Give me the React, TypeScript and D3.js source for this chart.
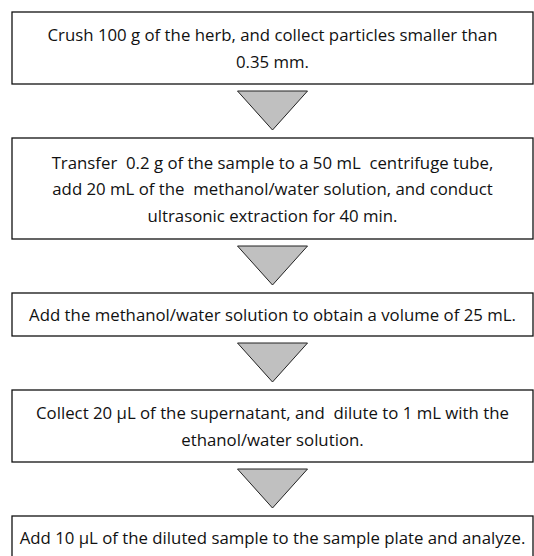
import React from 'react';
import * as d3 from 'd3';

// each step of the procedure, already broken into the lines seen in the figure
const steps: string[][] = [
  ['Crush 100 g of the herb, and collect particles smaller than', '0.35 mm.'],
  [
    'Transfer  0.2 g of the sample to a 50 mL  centrifuge tube,',
    'add 20 mL of the  methanol/water solution, and conduct',
    'ultrasonic extraction for 40 min.',
  ],
  ['Add the methanol/water solution to obtain a volume of 25 mL.'],
  ['Collect 20 µL of the supernatant, and  dilute to 1 mL with the', 'ethanol/water solution.'],
  ['Add 10 µL of the diluted sample to the sample plate and analyze.'],
];

const W = 534;
const H = 556;
const left = 12;
const right = 533;
const top = 12;
const lineH = 26.5;
const connector = 54;
const triW = 70;
const triH = 39;
const triGap = 7;

function boxHeight(n: number) {
  return 14 + 29 * n;
}

export default function App() {
  const cx = (left + right) / 2;
  const xTri = d3.scaleLinear().domain([-1, 1]).range([cx - triW / 2, cx + triW / 2]);

  // stack the boxes vertically
  let y = top;
  const layout = steps.map((lines) => {
    const h = boxHeight(lines.length);
    const item = { lines, y0: y, h };
    y += h + connector;
    return item;
  });

  const tri = d3.line<[number, number]>();

  return (
    <div style={{ position: 'absolute', left: 0, top: 0 }}>
      <svg width={W} height={H} style={{ display: 'block', background: '#fff' }}>
        {layout.map((b, i) => {
          const mid = b.y0 + b.h / 2;
          const first = mid - ((b.lines.length - 1) * lineH) / 2;
          return (
            <g key={i}>
              <rect x={left} y={b.y0} width={right - left} height={b.h} fill="#fff" stroke="#111" strokeWidth={1.3} />
              {b.lines.map((t, j) => (
                <text
                  key={j}
                  x={cx}
                  y={first + j * lineH}
                  textAnchor="middle"
                  dominantBaseline="central"
                  fontFamily="'Open Sans', sans-serif"
                  fontSize={16.8}
                  fill="#111"
                  style={{ whiteSpace: 'pre' }}
                >
                  {t}
                </text>
              ))}
              {i < layout.length - 1 && (
                <path
                  d={
                    tri([
                      [xTri(-1), b.y0 + b.h + triGap],
                      [xTri(1), b.y0 + b.h + triGap],
                      [xTri(0), b.y0 + b.h + triGap + triH],
                    ]) + 'Z'
                  }
                  fill="#c0c0c0"
                  stroke="#222"
                  strokeWidth={1}
                />
              )}
            </g>
          );
        })}
      </svg>
    </div>
  );
}
